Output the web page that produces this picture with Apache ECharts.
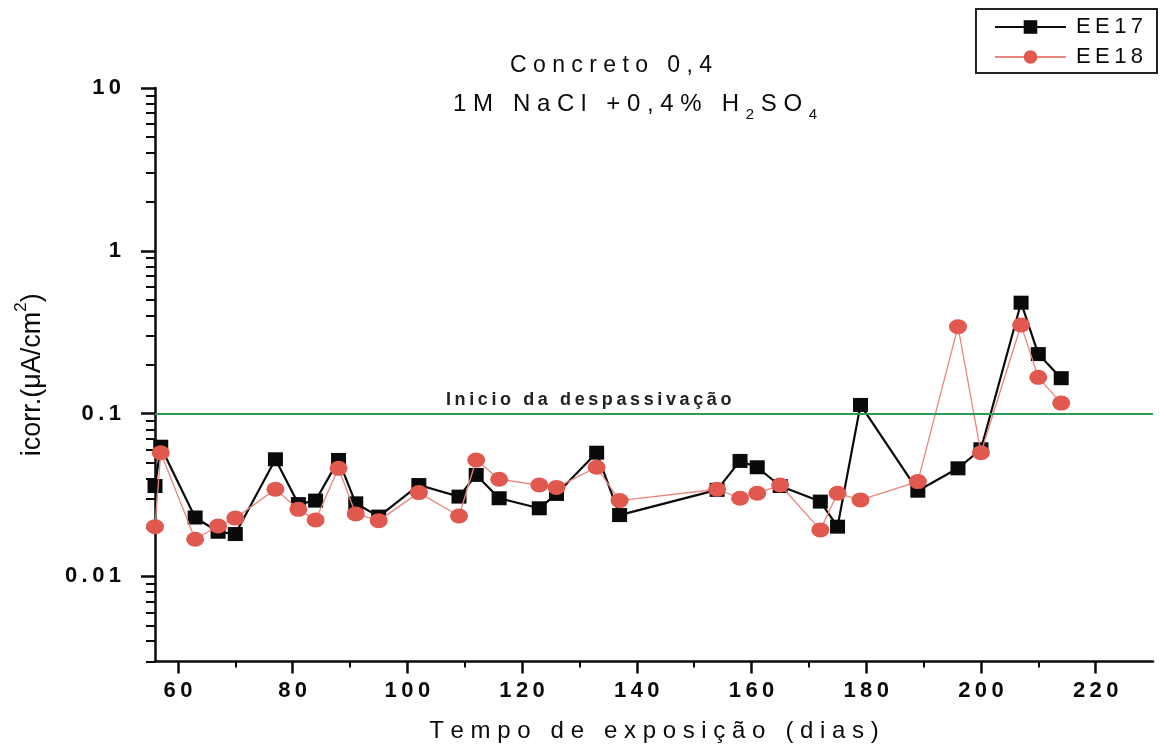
<!DOCTYPE html>
<html>
<head>
<meta charset="utf-8">
<script src="https://cdn.jsdelivr.net/npm/echarts@6/dist/echarts.min.js"></script>
<style>
  html, body { margin: 0; padding: 0; background: #fff; }
  #chart { width: 1160px; height: 751px; }
</style>
</head>
<body>
<div id="chart"></div>
<script>
// Exposure time (days) of each corrosion-current measurement
const days = [56, 57, 63, 67, 70, 77, 81, 84, 88, 91, 95, 102, 109, 112, 116, 123, 126, 133, 137,
              154, 158, 161, 165, 172, 175, 179, 189, 196, 200, 207, 210, 214];

// icorr (µA/cm²) for specimen EE17
const ee17 = [0.0359, 0.0626, 0.0230, 0.0188, 0.0182, 0.0524, 0.0278, 0.0292, 0.0519, 0.0281, 0.0233,
              0.0364, 0.0309, 0.0420, 0.0302, 0.0262, 0.0321, 0.0575, 0.0238, 0.0340, 0.0512, 0.0468,
              0.0359, 0.0288, 0.0202, 0.113, 0.0336, 0.0461, 0.0604, 0.480, 0.232, 0.165];

// icorr (µA/cm²) for specimen EE18
const ee18 = [0.0202, 0.0575, 0.0169, 0.0204, 0.0228, 0.0343, 0.0258, 0.0222, 0.0461, 0.0242, 0.0220,
              0.0327, 0.0235, 0.0519, 0.0395, 0.0364, 0.0352, 0.0468, 0.0292, 0.0343, 0.0302, 0.0324,
              0.0364, 0.0193, 0.0324, 0.0295, 0.0382, 0.342, 0.0575, 0.350, 0.167, 0.116];

// Depassivation threshold
const depassivationLevel = 0.095;

// Axis ticks
const xTickValues = [60, 80, 100, 120, 140, 160, 180, 200, 220];
const xMinorTickValues = [70, 90, 110, 130, 150, 170, 190, 210];
const yTickValues = [0.01, 0.1, 1, 10];
const yTickLabels = ['0.01', '0.1', '1', '10'];
const yMinorTickValues = [0.003, 0.004, 0.005, 0.006, 0.007, 0.008, 0.009,
                          0.02, 0.03, 0.04, 0.05, 0.06, 0.07, 0.08, 0.09,
                          0.2, 0.3, 0.4, 0.5, 0.6, 0.7, 0.8, 0.9,
                          2, 3, 4, 5, 6, 7, 8, 9];

const FONT = "'Liberation Sans', Arial, sans-serif";
const INK = '#0a0a0a';
const THIN = '\u2009';

// Open up letter spacing by putting a separator between characters
const spaced = (s, sep) => Array.from(s).join(sep);

function yLabel(v) {
  let best = 0;
  yTickValues.forEach((t, i) => {
    if (Math.abs(Math.log10(t) - Math.log10(v)) < Math.abs(Math.log10(yTickValues[best]) - Math.log10(v))) best = i;
  });
  return spaced(yTickLabels[best], THIN);
}

const chart = echarts.init(document.getElementById('chart'), null, { renderer: 'canvas' });

const axisLineStyle = { color: INK, width: 2.5 };

const option = {
  animation: false,
  backgroundColor: '#fff',
  textStyle: { fontFamily: FONT, color: INK },
  grid: { left: 155, right: 7, top: 88, bottom: 89.5, containLabel: false },
  graphic: [
    {
      type: 'text', x: 611, y: 66, silent: true,
      style: {
        text: spaced('Concreto 0,4', ' '),
        align: 'center', verticalAlign: 'middle',
        fontSize: 23, fontFamily: FONT, fill: INK
      }
    },
    {
      type: 'text', x: 635, y: 104, silent: true,
      style: {
        text: '{n|' + spaced('1M NaCl +0,4% H', ' ') + ' }{s|2}{n| ' + spaced('SO', ' ') + ' }{s|4}',
        align: 'center', verticalAlign: 'middle',
        fontFamily: FONT, fill: INK,
        rich: {
          n: { fontSize: 24, lineHeight: 36, verticalAlign: 'middle', fontFamily: FONT, fill: INK },
          s: { fontSize: 15, verticalAlign: 'bottom', fontFamily: FONT, fill: INK }
        }
      }
    }
  ],
  legend: {
    orient: 'vertical',
    right: 3,
    top: 9,
    data: ['EE17', 'EE18'],
    itemWidth: 71,
    itemHeight: 17,
    itemGap: 8,
    padding: [7, 14, 5, 18],
    borderColor: '#222',
    borderWidth: 2,
    backgroundColor: '#fff',
    formatter: (name) => spaced(name, THIN),
    textStyle: { fontSize: 22, color: INK, fontFamily: FONT, padding: [0, 0, 0, 5] }
  },
  xAxis: [
    {
      type: 'value', min: 56, max: 230, position: 'bottom',
      name: spaced('Tempo de exposição (dias)', ' '),
      nameLocation: 'middle', nameGap: 58,
      nameTextStyle: { fontSize: 24, color: INK, fontFamily: FONT },
      axisLine: { show: true, onZero: false, lineStyle: axisLineStyle },
      axisTick: { show: true, length: 12, customValues: xTickValues, lineStyle: axisLineStyle },
      axisLabel: {
        customValues: xTickValues, margin: 18, fontSize: 22, fontWeight: 'bold', color: INK, fontFamily: FONT,
        formatter: (v) => spaced(String(v), THIN)
      },
      splitLine: { show: false }
    },
    {
      type: 'value', min: 56, max: 230, position: 'bottom', offset: 0,
      axisLine: { show: false, onZero: false },
      axisTick: { show: true, length: 6, customValues: xMinorTickValues, lineStyle: { color: INK, width: 2 } },
      axisLabel: { show: false },
      splitLine: { show: false }
    }
  ],
  yAxis: [
    {
      type: 'log', logBase: 10, min: 0.003, max: 10, position: 'left',
      name: '{a|icorr.(μA/cm}{b|2}{a|)}',
      nameLocation: 'middle', nameGap: 102,
      nameTextStyle: {
        fontSize: 27, color: INK, fontFamily: FONT,
        rich: {
          a: { fontSize: 27, lineHeight: 40, color: INK, fontFamily: FONT },
          b: { fontSize: 17, verticalAlign: 'top', color: INK, fontFamily: FONT }
        }
      },
      axisLine: { show: true, onZero: false, lineStyle: axisLineStyle },
      axisTick: { show: true, length: 14, customValues: yTickValues, lineStyle: axisLineStyle },
      axisLabel: {
        customValues: yTickValues, margin: 34, fontSize: 22, fontWeight: 'bold', color: INK, fontFamily: FONT,
        formatter: yLabel
      },
      splitLine: { show: false },
      minorTick: { show: false }
    },
    {
      type: 'log', logBase: 10, min: 0.003, max: 10, position: 'left', offset: 0,
      axisLine: { show: false, onZero: false },
      axisTick: { show: true, length: 9, customValues: yMinorTickValues, lineStyle: { color: INK, width: 2 } },
      axisLabel: { show: false },
      splitLine: { show: false }
    }
  ],
  series: [
    {
      name: 'EE17',
      type: 'line',
      xAxisIndex: 0, yAxisIndex: 0,
      data: days.map((d, i) => [d, ee17[i]]),
      symbol: 'rect',
      symbolSize: [15, 14],
      itemStyle: { color: INK },
      lineStyle: { color: INK, width: 2.2 },
      z: 3,
      markLine: {
        silent: true,
        symbol: 'none',
        lineStyle: { color: '#2f9a58', width: 2, type: 'solid' },
        label: {
          show: true,
          position: 'insideStartTop',
          formatter: spaced('Inicio da despassivação', THIN),
          fontSize: 18, fontWeight: 'bold', color: '#222', fontFamily: FONT,
          padding: [0, 0, 0, 286]
        },
        data: [{ yAxis: depassivationLevel }]
      }
    },
    {
      name: 'EE18',
      type: 'line',
      xAxisIndex: 0, yAxisIndex: 0,
      data: days.map((d, i) => [d, ee18[i]]),
      symbol: 'circle',
      symbolSize: [18, 15],
      itemStyle: { color: '#e0584e' },
      lineStyle: { color: '#e8857c', width: 1.3 },
      z: 4
    }
  ]
};

chart.setOption(option);
</script>
</body>
</html>
